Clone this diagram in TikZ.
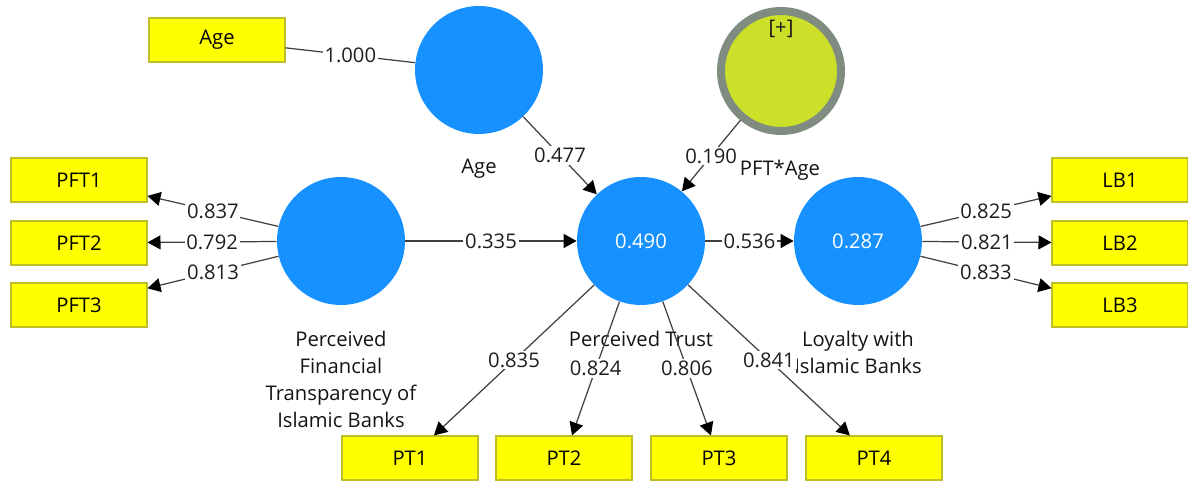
\documentclass[tikz,border=0pt]{standalone}
\usepackage{fontspec}
\setmainfont{Open Sans}
\usepackage{tikz}
\usetikzlibrary{arrows.meta}
\definecolor{lvblue}{RGB}{22,145,255}
\definecolor{indyellow}{RGB}{255,255,0}
\definecolor{indedge}{RGB}{190,190,40}
\definecolor{modfill}{RGB}{204,224,42}
\definecolor{modedge}{RGB}{128,140,128}
\definecolor{coeftext}{RGB}{30,30,30}

\begin{document}
\begin{tikzpicture}[
  x=0.02cm, y=-0.02cm,
  font=\fontsize{11.5}{15.3}\selectfont,
  ind/.style={draw=indedge, fill=indyellow, line width=0.6pt, minimum width=2.72cm, minimum height=0.88cm, inner sep=0pt},
  lv/.style={circle, fill=lvblue, minimum size=2.56cm, inner sep=0pt, text=white},
  modlv/.style={circle, draw=modedge, line width=0.16cm, fill=modfill, minimum size=2.4cm, inner sep=0pt},
  lvname/.style={anchor=north, align=center, text=black!92, inner sep=0pt},
  coef/.style={fill=white, inner sep=1pt, text=coeftext},
  link/.style={draw=black!75, line width=0.7pt},
  arrow/.style={link, -{Triangle[length=0.26cm, width=0.28cm, black]}}
]
\useasboundingbox (0,0) rectangle (1188,482);

\node[ind] (agebox) at (217,40) {Age};
\node[lv] (age) at (479,70) {};
\node[lvname] (agename) at (479,159) {Age};
\node[modlv] (pftage) at (781,71) {};
\node[text=black!92, inner sep=0pt] (plus) at (781,29) {[+]};
\node[lvname] (pftagename) at (780,160) {PFT*Age};

\node[ind] (pft1) at (79,180) {PFT1};
\node[ind] (pft2) at (79,243) {PFT2};
\node[ind] (pft3) at (79,305) {PFT3};
\node[lv] (pft) at (341,241) {};
\node[lvname] (pftname) at (341,331) {Perceived\\Financial\\Transparency of\\Islamic Banks};

\node[lv] (pt) at (641,241) {0.490};
\node[lvname] (ptname) at (641,331) {Perceived Trust};
\node[ind] (pt1) at (410,458) {PT1};
\node[ind] (pt2) at (564,458) {PT2};
\node[ind] (pt3) at (719,458) {PT3};
\node[ind] (pt4) at (874,458) {PT4};

\node[lv] (lb) at (858,241) {0.287};
\node[lvname] (lbname) at (858,331) {Loyalty with\\Islamic Banks};
\node[ind] (lb1) at (1120,180) {LB1};
\node[ind] (lb2) at (1120,243) {LB2};
\node[ind] (lb3) at (1120,305) {LB3};

\draw[link] (agebox) -- node[coef] {1.000} (age);
\draw[arrow] (age) -- node[coef] {0.477} (pt);
\draw[arrow] (pftage) -- node[coef] {0.190} (pt);
\draw[arrow] (pft) -- node[coef] {0.335} (pt);
\draw[arrow] (pt) -- node[coef] {0.536} (lb);

\draw[arrow] (pft) -- node[coef] {0.837} (pft1);
\draw[arrow] (pft) -- node[coef] {0.792} (pft2);
\draw[arrow] (pft) -- node[coef] {0.813} (pft3);

\draw[arrow] (pt) -- node[coef] {0.835} (pt1);
\draw[arrow] (pt) -- node[coef] {0.824} (pt2);
\draw[arrow] (pt) -- node[coef] {0.806} (pt3);
\draw[arrow] (pt) -- node[coef] {0.841} (pt4);

\draw[arrow] (lb) -- node[coef] {0.825} (lb1);
\draw[arrow] (lb) -- node[coef] {0.821} (lb2);
\draw[arrow] (lb) -- node[coef] {0.833} (lb3);
\end{tikzpicture}
\end{document}
